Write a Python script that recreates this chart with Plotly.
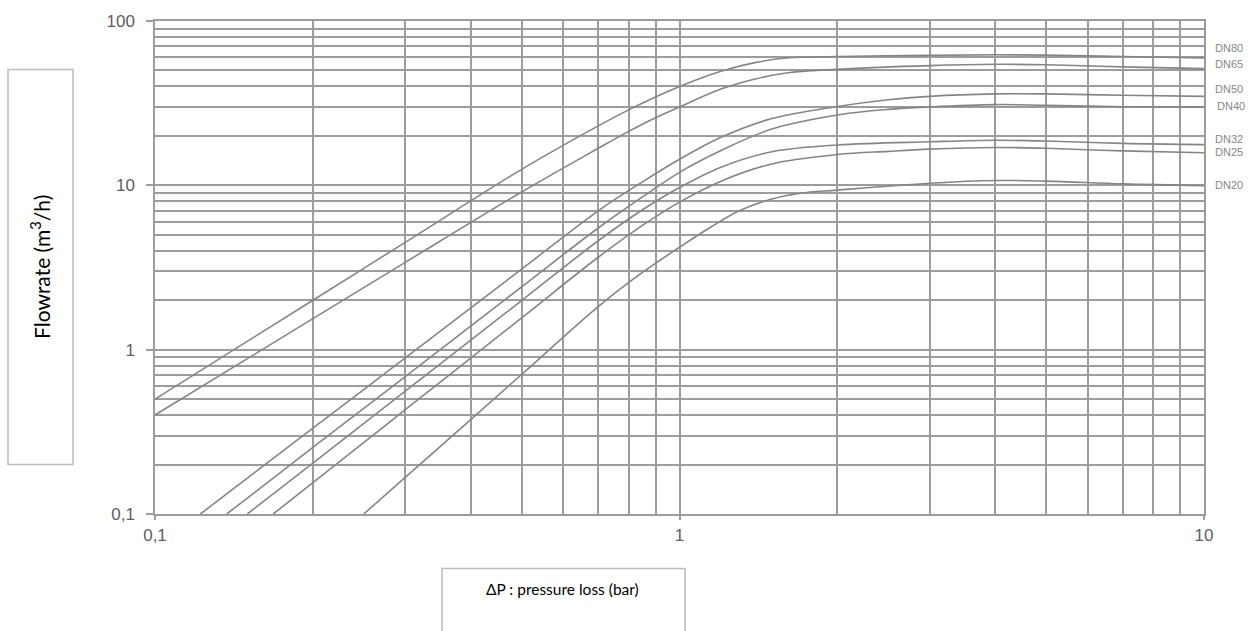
import plotly.graph_objects as go
import math

# ---- data (ΔP in bar, flowrate in m3/h) ----
series_names = ["DN80", "DN65", "DN50", "DN40", "DN32", "DN25", "DN20"]

dp_dn80 = [0.1, 0.2, 0.3, 0.5, 0.7, 0.8, 0.9, 1.0, 1.2, 1.4, 1.6, 2, 3, 4, 5, 7, 10]
q_dn80 = [0.5, 2.0, 4.5, 12.5, 23, 28.8, 34.5, 40, 49.5, 56, 59.5, 60.8, 61.8, 62.3, 62, 60.8, 59.5]

dp_dn65 = [0.1, 0.2, 0.3, 0.5, 0.7, 0.8, 0.9, 1.0, 1.2, 1.4, 1.6, 2, 3, 4, 5, 7, 10]
q_dn65 = [0.40, 1.545, 3.4, 9.1, 16.8, 21.3, 25.8, 30, 38.5, 44.5, 48.3, 50.8, 53.5, 54.5, 54.2, 52.6, 51.3]

dp_dn50 = [0.122, 0.2, 0.3, 0.5, 0.7, 0.85, 1.0, 1.2, 1.5, 2, 2.5, 3, 4, 5, 7, 10]
q_dn50 = [0.1, 0.333, 0.89, 3.09, 7.0, 10.5, 14.4, 19.6, 25.5, 30.2, 33.2, 34.8, 36, 36, 35.3, 34.8]

dp_dn40 = [0.137, 0.2, 0.3, 0.5, 0.7, 0.85, 1.0, 1.2, 1.5, 2, 2.5, 3, 4, 5, 7, 10]
q_dn40 = [0.1, 0.254, 0.686, 2.41, 5.5, 8.5, 12, 16.3, 22, 26.8, 29, 30, 31, 30.7, 30.1, 29.9]

dp_dn32 = [0.15, 0.2, 0.3, 0.5, 0.7, 0.85, 1.0, 1.2, 1.5, 2, 3, 4, 5, 7, 10]
q_dn32 = [0.1, 0.204, 0.56, 1.99, 4.6, 7.1, 9.7, 12.9, 16.0, 17.6, 18.4, 18.8, 18.6, 18, 17.7]

dp_dn25 = [0.168, 0.2, 0.3, 0.5, 0.7, 0.85, 1.0, 1.2, 1.5, 2, 2.5, 3, 4, 5, 7, 10]
q_dn25 = [0.1, 0.155, 0.431, 1.56, 3.65, 5.7, 7.9, 10.6, 13.5, 15.4, 16.1, 16.6, 17, 16.8, 16.2, 15.8]

dp_dn20 = [0.25, 0.3, 0.5, 0.7, 0.85, 1.0, 1.15, 1.3, 1.5, 1.7, 2, 3, 4, 5, 7, 10]
q_dn20 = [0.1, 0.167, 0.706, 1.83, 2.95, 4.2, 5.6, 7.0, 8.25, 8.95, 9.35, 10.3, 10.7, 10.6, 10.2, 9.95]

x_tick_vals = [0.1, 1, 10]
x_tick_text = ["0,1", "1", "10"]
y_tick_vals = [0.1, 1, 10, 100]
y_tick_text = ["0,1", "1", "10", "100"]
minor_x = [m * d for d in (0.1, 1) for m in range(2, 10)]
minor_y = [m * d for d in (0.1, 1, 10) for m in range(2, 10)]

x_title = "ΔP : pressure loss (bar)"
y_title = "Flowrate (m<sup>3</sup>/h)"

xs = [dp_dn80, dp_dn65, dp_dn50, dp_dn40, dp_dn32, dp_dn25, dp_dn20]
ys = [q_dn80, q_dn65, q_dn50, q_dn40, q_dn32, q_dn25, q_dn20]

# ---- styling ----
GRID = "#9c9c9c"
CURVE = "#858585"
label_yshift = [10, 5, 7, 1, 6, 1, 1]
label_xshift = [9, 9, 9, 11, 9, 9, 9]

fig = go.Figure()
for name, x, y in zip(series_names, xs, ys):
    fig.add_trace(go.Scatter(
        x=x, y=y, mode="lines", name=name,
        line=dict(color=CURVE, width=1.6, shape="spline", smoothing=1.0),
        showlegend=False, hoverinfo="x+y+name",
    ))

for name, y, ys_, xs_ in zip(series_names, ys, label_yshift, label_xshift):
    fig.add_annotation(
        text=name, xref="paper", x=1, xanchor="left", xshift=xs_,
        yref="y", y=math.log10(y[-1]), yanchor="middle", yshift=ys_,
        showarrow=False,
        font=dict(family="Liberation Sans, Arial", size=11, color="#868686"),
    )

L, R, T, B = 155, 53, 17, 117
W, H = 1257, 631
pw, ph = W - L - R, H - T - B


def px_to_paper_x(px):
    return (px - L) / pw


def px_to_paper_y(py):
    return (H - B - py) / ph


box_color = "#bcbcbc"
# y-title box
fig.add_shape(type="rect", xref="paper", yref="paper",
              x0=px_to_paper_x(8), x1=px_to_paper_x(73),
              y0=px_to_paper_y(464), y1=px_to_paper_y(66),
              line=dict(color=box_color, width=1.5), fillcolor="rgba(0,0,0,0)")
# x-title box
fig.add_shape(type="rect", xref="paper", yref="paper",
              x0=px_to_paper_x(442), x1=px_to_paper_x(685),
              y0=px_to_paper_y(640), y1=px_to_paper_y(569),
              line=dict(color=box_color, width=1.5), fillcolor="rgba(0,0,0,0)")

fig.add_annotation(text=y_title, xref="paper", yref="paper",
                   x=px_to_paper_x(40), y=px_to_paper_y(265),
                   xanchor="center", yanchor="middle",
                   textangle=-90, showarrow=False,
                   font=dict(family="Lato", size=21, color="#000000"))
fig.add_annotation(text=x_title, xref="paper", yref="paper",
                   x=px_to_paper_x(562), y=px_to_paper_y(590),
                   xanchor="center", yanchor="middle",
                   showarrow=False,
                   font=dict(family="Lato", size=15.5, color="#000000"))

tick_font = dict(family="Liberation Sans, Arial", size=17, color="#5e5e5e")
fig.update_xaxes(
    type="log", range=[-1, 1],
    tickmode="array", tickvals=x_tick_vals, ticktext=x_tick_text,
    showgrid=True, gridcolor=GRID, gridwidth=1.5,
    showline=True, linecolor=GRID, linewidth=1.5, mirror=True,
    ticks="outside", ticklen=4, tickcolor=GRID, tickwidth=1.5,
    ticklabelstandoff=1,
    tickfont=tick_font, zeroline=False,
    minor=dict(tickmode="array", tickvals=minor_x, showgrid=True,
               gridcolor=GRID, gridwidth=1.5, ticks=""),
)
fig.update_yaxes(
    type="log", range=[-1, 2],
    tickmode="array", tickvals=y_tick_vals, ticktext=y_tick_text,
    showgrid=True, gridcolor=GRID, gridwidth=1.5,
    showline=True, linecolor=GRID, linewidth=1.5, mirror=True,
    ticks="outside", ticklen=7, tickcolor=GRID, tickwidth=1.5,
    ticklabelstandoff=8,
    tickfont=tick_font, zeroline=False,
    minor=dict(tickmode="array", tickvals=minor_y, showgrid=True,
               gridcolor=GRID, gridwidth=1.5, ticks=""),
)

fig.update_layout(
    width=W, height=H,
    margin=dict(l=L, r=R, t=T, b=B, pad=0),
    plot_bgcolor="white", paper_bgcolor="white",
    showlegend=False,
)

post = (
    "document.body.style.margin='0px';"
    "var gd=document.getElementById('{plot_id}');"
    "gd.style.position='fixed';gd.style.left='0px';gd.style.top='0px';"
)
fig.write_html("out.html", post_script=post, config={"displayModeBar": False})
